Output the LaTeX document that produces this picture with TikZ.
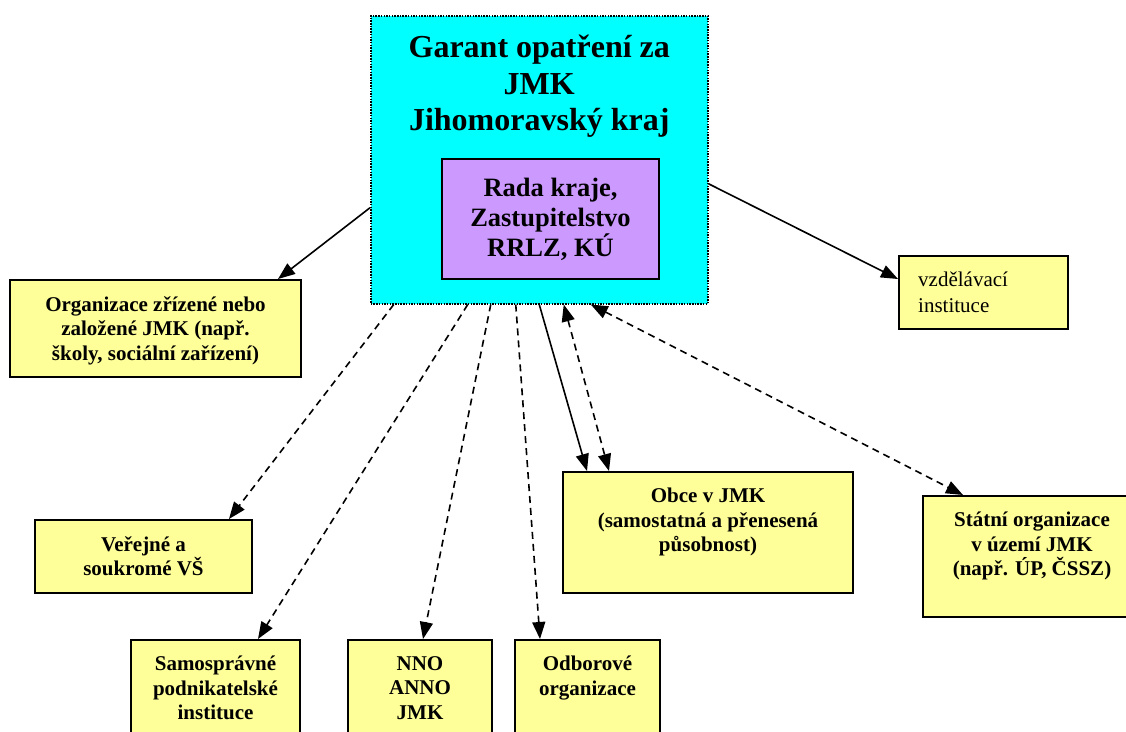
\documentclass[tikz,border=0pt]{standalone}
\usepackage{fontspec}
\setmainfont{Liberation Serif}
\usetikzlibrary{arrows.meta}
\definecolor{garantcyan}{RGB}{0,255,255}
\definecolor{radapurple}{RGB}{204,153,255}
\definecolor{boxyellow}{RGB}{255,255,153}

\begin{document}
\begin{tikzpicture}[x=1pt, y=-1pt,
    >={Triangle[length=17pt, width=13pt]},
    box/.style={draw, line width=2pt, fill=boxyellow, inner sep=0pt, anchor=north west},
    boxtext/.style={anchor=north, align=center, inner sep=0pt, yshift=-17pt,
        font=\fontsize{21}{24.5}\selectfont\bfseries},
    link/.style={line width=1.6pt, ->},
    dlink/.style={link, dash pattern=on 7pt off 5pt}]

    \useasboundingbox (0, 0) rectangle (1126, 731);

    \node[draw, dash pattern=on 1.5pt off 1.2pt, line width=1.5pt, fill=garantcyan, anchor=north west,
        inner sep=0pt, minimum width=337pt, minimum height=288pt,
        label={[anchor=north, align=center, inner sep=0pt, yshift=-20pt,
            font=\fontsize{32}{36.5}\selectfont\bfseries]north:{Garant opatření za\\JMK\\ Jihomoravský kraj}}]
        (garant) at (370, 15) {};
    \node[draw, line width=2pt, fill=radapurple, align=center, inner sep=0pt,
        minimum width=217pt, minimum height=120pt, font=\fontsize{26.5}{30}\selectfont\bfseries]
        (rada) at (550.5, 219) {Rada kraje,\\Zastupitelstvo\\RRLZ, KÚ};

    \node[box, minimum width=291pt, minimum height=97pt,
        label={[boxtext]north:{Organizace zřízené nebo\\založené JMK (např.\\školy, sociální zařízení)}}]
        (org) at (9, 279) {};
    \node[box, minimum width=169pt, minimum height=73pt,
        label={[boxtext, anchor=north west, align=left, xshift=20pt,
            font=\fontsize{21}{26}\selectfont]north west:{vzdělávací\\instituce}}]
        (vzdel) at (898, 255) {};
    \node[box, minimum width=217pt, minimum height=73pt,
        label={[boxtext]north:{Veřejné a\\soukromé VŠ}}]
        (vs) at (34, 519) {};
    \node[box, minimum width=290pt, minimum height=121pt,
        label={[boxtext]north:{Obce v JMK\\(samostatná a přenesená\\působnost)}}]
        (obce) at (562, 471) {};
    \node[box, minimum width=218pt, minimum height=121pt,
        label={[boxtext]north:{Státní organizace\\v území JMK\\(např. ÚP, ČSSZ)}}]
        (statni) at (922, 495) {};
    \node[box, minimum width=169pt, minimum height=100pt,
        label={[boxtext]north:{Samosprávné\\podnikatelské\\instituce}}]
        (samospr) at (130, 639) {};
    \node[box, minimum width=144pt, minimum height=100pt,
        label={[boxtext]north:{NNO\\ANNO\\JMK}}]
        (nno) at (347, 639) {};
    \node[box, minimum width=145pt, minimum height=100pt,
        label={[boxtext]north:{Odborové\\organizace}}]
        (odbor) at (514, 639) {};

    \draw[link] ([yshift=-48pt]garant.west) -- ([xshift=122.5pt]org.north);
    \draw[link] ([yshift=-24pt]garant.east) -- ([yshift=13.5pt]vzdel.west);

    \draw[dlink] ([xshift=-145.5pt]garant.south) -- ([xshift=85.5pt]vs.north);
    \draw[dlink] ([xshift=-71.5pt]garant.south) -- ([xshift=42.5pt]samospr.north);
    \draw[dlink] ([xshift=-48.5pt]garant.south) -- ([xshift=3pt]nno.north);
    \draw[dlink] ([xshift=-23.5pt]garant.south) -- ([xshift=-47.5pt]odbor.north);
    \draw[link] (garant.south) -- ([xshift=-121pt]obce.north);
    \draw[dlink, <->] ([xshift=24.5pt]garant.south) -- ([xshift=-99pt]obce.north);
    \draw[dlink, <->] ([xshift=51.5pt]garant.south) -- ([xshift=-69pt]statni.north);
\end{tikzpicture}
\end{document}
